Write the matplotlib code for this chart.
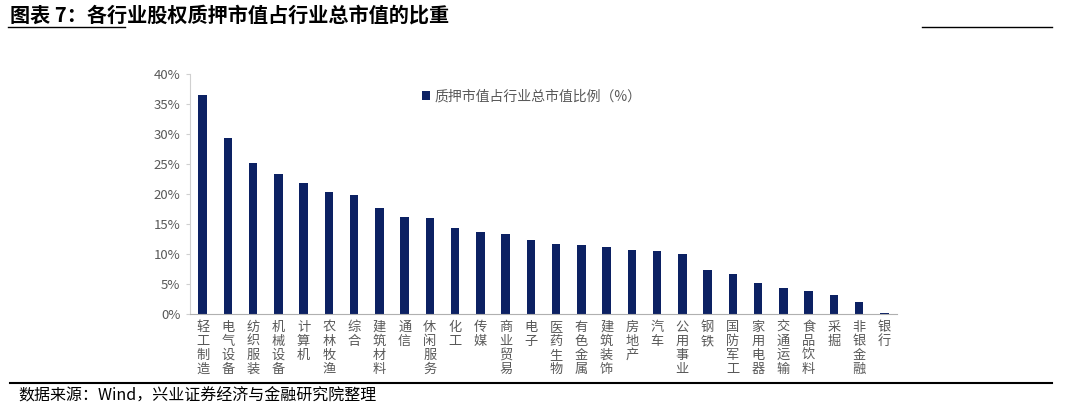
import matplotlib
matplotlib.use("Agg")
from matplotlib import pyplot as plt
from matplotlib.lines import Line2D
from matplotlib.ticker import FuncFormatter

plt.rcParams['font.family'] = ['Noto Sans CJK SC', 'DejaVu Sans']

# industries, sorted by share of pledged market value
industries = ["轻工制造", "电气设备", "纺织服装", "机械设备", "计算机", "农林牧渔", "综合",
              "建筑材料", "通信", "休闲服务", "化工", "传媒", "商业贸易", "电子",
              "医药生物", "有色金属", "建筑装饰", "房地产", "汽车", "公用事业", "钢铁",
              "国防军工", "家用电器", "交通运输", "食品饮料", "采掘", "非银金融", "银行"]
pledge_ratio = [36.5, 29.4, 25.1, 23.4, 21.8, 20.4, 19.8,
                17.6, 16.1, 16.0, 14.4, 13.6, 13.4, 12.3,
                11.7, 11.5, 11.2, 10.75, 10.5, 10.0, 7.35,
                6.75, 5.2, 4.3, 3.9, 3.2, 2.05, 0.2]
y_ticks = [0, 5, 10, 15, 20, 25, 30, 35, 40]

navy = "#0c2163"
gray = "#595959"

fig = plt.figure(figsize=(10.73, 4.08), dpi=100)
ax = fig.add_axes([190 / 1073, 94 / 408, 707 / 1073, 240 / 408])

x = range(len(industries))
ax.bar(x, pledge_ratio, width=0.33, color=navy, label="质押市值占行业总市值比例（%）")

ax.set_xlim(-0.5, len(industries) - 0.5)
ax.set_ylim(0, 40)
ax.set_yticks(y_ticks)
ax.yaxis.set_major_formatter(FuncFormatter(lambda v, p: f"{v:.0f}%"))
ax.set_xticks(list(x))
ax.set_xticklabels(["\n".join(s) for s in industries], va="top", linespacing=1.1)

for s in ["top", "right"]:
    ax.spines[s].set_visible(False)
ax.spines["left"].set_color("#d0d0d0")
ax.spines["bottom"].set_color("#b0b0b0")
ax.tick_params(axis="y", length=3, color="#d0d0d0", labelsize=9.5, labelcolor=gray, pad=4)
ax.tick_params(axis="x", length=0, labelsize=9.5, labelcolor=gray, pad=5)

leg = ax.legend(loc="center left", bbox_to_anchor=(0.31, 0.905), frameon=False,
                fontsize=10, handlelength=0.6, handleheight=0.6, handletextpad=0.3)
for t in leg.get_texts():
    t.set_color(gray)

# header and footer
fig.text(10 / 1073, 1 - 15 / 408, "图表 7：各行业股权质押市值占行业总市值的比重",
         fontsize=14.5, fontweight="bold", va="center", ha="left")
fig.add_artist(Line2D([8 / 1073, 125 / 1073], [1 - 27 / 408] * 2, color="black", lw=1))
fig.add_artist(Line2D([922 / 1073, 1052 / 1073], [1 - 27 / 408] * 2, color="black", lw=1))
fig.add_artist(Line2D([10 / 1073, 1052 / 1073], [1 - 383 / 408] * 2, color="black", lw=1.5))
fig.text(18 / 1073, 1 - 396 / 408, "数据来源：Wind，兴业证券经济与金融研究院整理",
         fontsize=11.5, va="center", ha="left")

fig.savefig("out.png", dpi=100)
